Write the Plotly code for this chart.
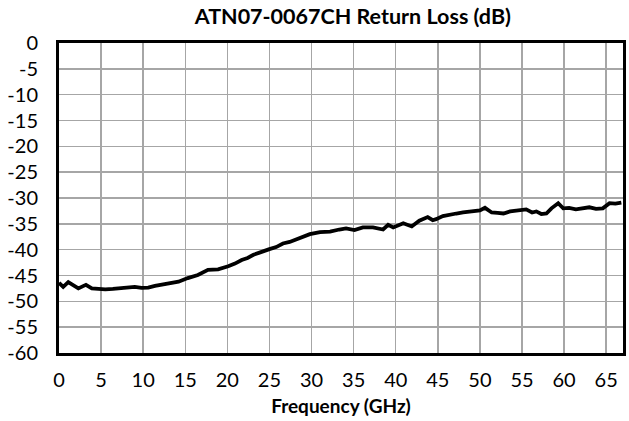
import plotly.graph_objects as go

freq_ghz = [0.0, 0.5, 1.1, 1.7, 2.3, 2.8, 3.2, 3.9, 4.6, 5.5, 6.4, 7.4, 8.2, 9.0, 9.8, 10.6, 11.4, 12.2,
            13.2, 14.2, 15.3, 16.5, 17.7, 18.9, 20.1, 20.9, 21.7, 22.4, 23.1, 24.0, 25.0, 25.8, 26.6,
            27.4, 28.2, 29.0, 29.8, 31.0, 32.2, 33.3, 34.1, 35.1, 36.1, 37.3, 38.5, 39.1, 39.7, 40.9,
            41.9, 42.8, 43.8, 44.4, 44.8, 45.6, 46.4, 47.2, 48.0, 49.2, 50.0, 50.6, 51.4, 52.1, 52.8,
            53.6, 54.3, 55.5, 56.2, 56.7, 57.3, 57.9, 58.5, 59.3, 59.9, 60.6, 61.4, 62.2, 63.0, 63.8,
            64.6, 65.4, 66.1, 66.8]
return_loss_db = [-46.4, -47.2, -46.3, -46.9, -47.5, -47.1, -46.8, -47.5, -47.6, -47.7, -47.6, -47.5,
                  -47.3, -47.2, -47.4, -47.35, -47.0, -46.8, -46.6, -46.2, -45.5, -44.9, -43.9, -43.8,
                  -43.2, -42.7, -42.0, -41.6, -41.0, -40.4, -39.9, -39.5, -38.8, -38.5, -38.0, -37.5,
                  -37.0, -36.6, -36.5, -36.1, -35.9, -36.2, -35.7, -35.7, -36.1, -35.2, -35.7, -34.9,
                  -35.5, -34.4, -33.7, -34.3, -34.1, -33.5, -33.2, -33.0, -32.8, -32.5, -32.4, -31.9,
                  -32.8, -32.9, -33.0, -32.6, -32.4, -32.2, -32.8, -32.6, -33.1, -33.0, -32.0, -31.0,
                  -32.0, -31.9, -32.2, -32.0, -31.8, -32.1, -32.0, -31.0, -31.1, -30.9]

x_ticks = list(range(0, 70, 5))
y_ticks = list(range(-60, 5, 5))

font_family = "Lato, 'Open Sans', sans-serif"

fig = go.Figure()
fig.add_trace(go.Scatter(x=freq_ghz, y=return_loss_db, mode="lines",
                         line=dict(color="black", width=3.8), hoverinfo="skip"))

fig.update_layout(
    width=629, height=421,
    margin=dict(l=59, r=6, t=43, b=68),
    paper_bgcolor="white", plot_bgcolor="white",
    showlegend=False,
    font=dict(family=font_family, size=20, color="black"),
    title=dict(text="<b>ATN07-0067CH Return Loss (dB)</b>", x=0.561, xanchor="center",
               y=0.961, yanchor="middle", font=dict(size=21.5, family=font_family, color="black")),
)
fig.update_xaxes(
    range=[0, 67], tickvals=x_ticks, ticktext=[str(v) for v in x_ticks],
    showgrid=True, gridcolor="#a6a6a6", gridwidth=1.5,
    showline=True, linecolor="black", linewidth=3, mirror=True,
    ticks="", ticklabelstandoff=7, zeroline=False, automargin=False,
    title=dict(text="<b>Frequency (GHz)</b>", font=dict(size=19, family=font_family), standoff=10),
)
fig.update_yaxes(
    range=[-60, 0], tickvals=y_ticks, ticktext=[str(v) for v in y_ticks],
    showgrid=True, gridcolor="#a6a6a6", gridwidth=1.5,
    showline=True, linecolor="black", linewidth=3, mirror=True,
    ticks="", ticklabelstandoff=14, zeroline=False, automargin=False,
)

fig.write_html("out.html", config={"displayModeBar": False, "staticPlot": True},
               post_script="document.body.style.margin='0';document.body.style.overflow='hidden';")
